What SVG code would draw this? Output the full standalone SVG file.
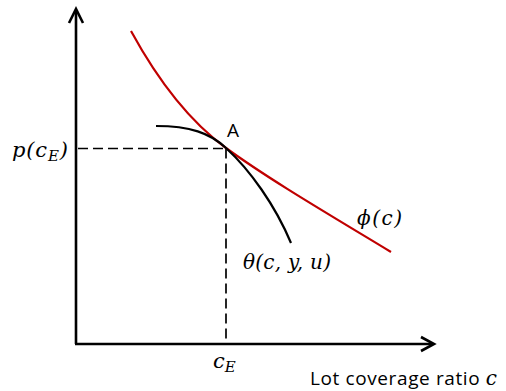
<svg xmlns="http://www.w3.org/2000/svg" width="506" height="391" viewBox="0 0 506 391">
<style>
.axis{stroke:#000;stroke-width:2.6;fill:none}
.head{stroke:#000;stroke-width:2.6;fill:none;stroke-linejoin:miter}
.dash{stroke:#000;stroke-width:1.7;fill:none;stroke-dasharray:10 5}
.math{font-family:"DejaVu Serif","Liberation Serif",serif;font-style:italic;fill:#000}
.sans{font-family:"Open Sans","Liberation Sans",sans-serif;fill:#000}
</style>
<rect width="506" height="391" fill="#fff"/>
<g id="axes">
<path class="axis" d="M76,344 V10"/>
<path class="head" d="M69,23 L76,9 L83,23"/>
<path class="axis" d="M75,344 H432"/>
<path class="head" d="M421,337 L434,344 L421,351"/>
</g>
<g id="connectors">
<path class="dash" d="M78,148.5 H226"/>
<path class="dash" d="M226,148.5 V342"/>
</g>
<g id="phi-curve">
<path d="M131,31 C155,75 185,118 226,148 C270,180 330,215 391,252" stroke="#c00000" stroke-width="2.2" fill="none"/>
<text class="math" x="357" y="225" font-size="20" textLength="45">ϕ(c)</text>
</g>
<g id="theta-curve">
<path d="M156,126 C190,126 210,133 226,148 C250,170 275,205 291,243" stroke="#000" stroke-width="2.2" fill="none"/>
<text class="math" x="243" y="269" font-size="20" textLength="88">θ(c, y, u)</text>
</g>
<g id="point-A">
<text class="sans" x="227" y="136.5" font-size="19">A</text>
</g>
<g id="label-p">
<text class="math" x="12" y="157" font-size="21" textLength="56">p(c<tspan font-size="15" dy="4">E</tspan><tspan dy="-4">)</tspan></text>
</g>
<g id="label-cE">
<text class="math" x="213" y="368" font-size="21">c<tspan font-size="15" dy="4">E</tspan></text>
</g>
<g id="label-x">
<text class="sans" x="310" y="385" font-size="19" textLength="187">Lot coverage ratio <tspan class="math" font-size="20">c</tspan></text>
</g>
</svg>
